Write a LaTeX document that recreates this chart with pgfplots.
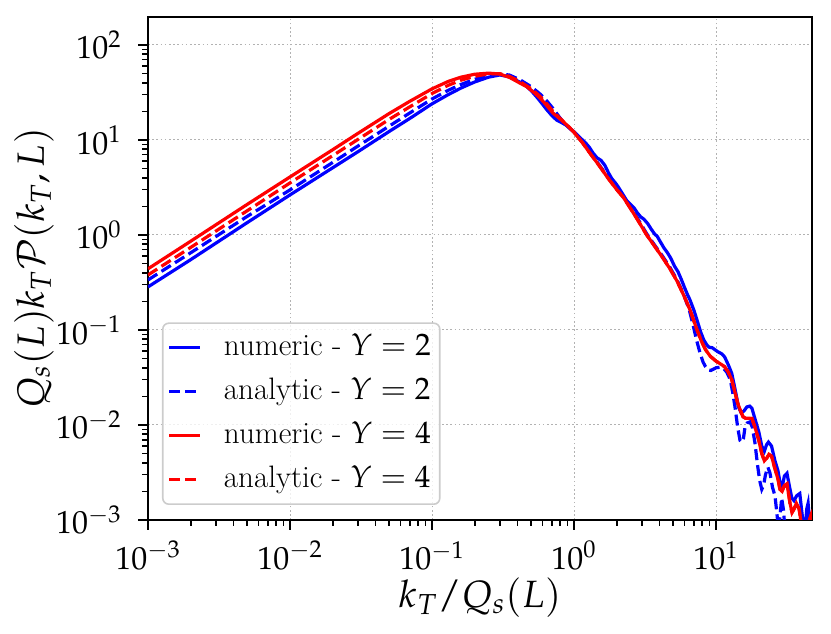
\documentclass[border=0pt]{standalone}
\usepackage{mathpazo}
\usepackage{pgfplots}
\pgfplotsset{compat=1.18}

\pgfplotstableread{
x y
0.001 0.284
0.002 0.55
0.005 1.35
0.01 2.64
0.02 5.1
0.03 7.5
0.05 12.3
0.07 16.9
0.1 24.0
0.13 30.0
0.16 35.2
0.2 40.8
0.25 45.8
0.3 48.3
0.35 46.3
0.417 40.5
0.46 37.0
0.5 33.0
0.55 28.0
0.6 23.8
0.64 21.0
0.7 18.0
0.755 16.2
0.82 15.2
0.888 14.2
0.95 13.0
1.0 12.2
1.1 10.6
1.2 9.4
1.28 8.4
1.36 7.3
1.45 6.5
1.55 6.1
1.65 5.4
1.75 4.5
1.85 3.9
1.95 3.55
2.05 3.2
2.2 2.7
2.35 2.3
2.5 2.1
2.65 1.92
2.8 1.7
2.95 1.55
3.1 1.47
3.3 1.32
3.5 1.15
3.7 1.02
3.85 0.97
4.05 0.85
4.3 0.73
4.55 0.65
4.8 0.57
5.1 0.47
5.4 0.41
5.7 0.34
6.0 0.28
6.3 0.235
6.56 0.207
7.0 0.16
7.35 0.127
7.8 0.095
8.2 0.0785
8.6 0.070
8.9 0.066
9.4 0.065
10.3 0.059
11.0 0.056
11.5 0.052
12.2 0.043
12.9 0.035
13.6 0.024
14.4 0.0155
15.0 0.0135
15.7 0.0140
16.5 0.0155
17.3 0.0158
17.9 0.0150
19.0 0.0110
20.0 0.0085
21.0 0.0060
21.9 0.0053
22.7 0.0062
23.4 0.0066
24.6 0.0060
26.0 0.0042
27.3 0.0033
28.2 0.0025
29.2 0.0022
30.3 0.0029
31.6 0.0031
33.0 0.0022
34.2 0.0017
35.4 0.0016
37.0 0.0018
38.9 0.0019
40.0 0.0013
41.2 0.0009
42.5 0.0008
43.5 0.0013
44.5 0.0015
45.5 0.0010
46.5 0.0008
47.4 0.0007
}\numtwo

\pgfplotstableread{
x y
0.001 0.336
0.002 0.65
0.005 1.57
0.01 2.98
0.02 5.8
0.03 8.6
0.05 14.0
0.07 19.3
0.1 27.0
0.13 33.3
0.16 38.4
0.2 43.5
0.25 47.6
0.3 49.3
0.35 48.3
0.417 43.0
0.5 36.3
0.576 30.5
0.64 26.0
0.711 21.5
0.78 17.8
0.836 15.6
0.9 13.9
1.0 12.1
1.15 9.5
1.3 7.4
1.5 5.5
1.75 4.0
2.0 3.05
2.22 2.55
2.5 1.95
2.8 1.5
3.25 1.03
3.7 0.78
4.2 0.60
4.74 0.455
5.3 0.34
5.9 0.24
6.5 0.16
6.9 0.112
7.3 0.078
7.7 0.058
8.1 0.046
8.44 0.041
8.8 0.038
9.2 0.0375
9.7 0.039
10.0 0.040
10.6 0.0405
11.2 0.040
11.9 0.036
12.6 0.030
13.1 0.022
13.6 0.0155
14.2 0.0095
14.75 0.0069
15.2 0.0066
15.6 0.0072
16.0 0.0095
16.6 0.0105
17.4 0.0108
18.0 0.0095
18.8 0.0065
19.6 0.0038
20.3 0.0026
21.0 0.0021
21.6 0.0023
22.3 0.0030
23.2 0.0036
24.0 0.0031
25.0 0.0022
26.0 0.0018
26.8 0.0012
27.5 0.0008
28.2 0.0011
29.0 0.0017
29.8 0.0013
30.6 0.0008
32.0 0.0005
34.0 0.0004
36.0 0.0006
38.0 0.0005
40.0 0.0004
}\anatwo

\pgfplotstableread{
x y
0.001 0.44
0.002 0.86
0.005 2.1
0.01 4.08
0.02 7.9
0.03 11.7
0.05 19.0
0.07 25.6
0.1 34.5
0.13 41.3
0.16 45.8
0.2 49.2
0.25 50.5
0.3 49.5
0.354 45.3
0.417 39.6
0.464 36.4
0.52 31.8
0.576 27.7
0.64 23.2
0.711 19.2
0.8 16.6
0.888 14.4
1.0 12.0
1.15 9.3
1.3 7.2
1.5 5.4
1.75 3.9
2.0 3.0
2.22 2.5
2.5 1.9
2.8 1.45
3.25 1.0
3.7 0.76
4.2 0.58
4.74 0.44
5.3 0.33
5.9 0.235
6.56 0.163
7.35 0.100
7.9 0.076
8.44 0.062
9.1 0.053
10.0 0.047
11.0 0.043
11.5 0.041
12.2 0.036
12.9 0.030
13.6 0.022
14.2 0.017
14.8 0.0144
15.5 0.0122
16.1 0.0118
17.0 0.0118
17.9 0.0117
18.8 0.0095
20.0 0.0069
21.0 0.0050
21.9 0.0042
22.8 0.0045
23.6 0.0049
24.6 0.0047
25.8 0.0036
27.3 0.0027
28.2 0.0021
29.2 0.0020
30.3 0.0023
31.6 0.0024
33.2 0.0015
34.3 0.0012
35.4 0.0013
36.8 0.0015
38.5 0.0013
39.5 0.0010
41.0 0.0008
42.5 0.0008
44.0 0.00085
45.5 0.0010
46.5 0.0011
47.4 0.0009
}\numfour

\pgfplotstableread{
x y
0.001 0.379
0.002 0.74
0.005 1.8
0.01 3.53
0.02 6.85
0.03 10.1
0.05 16.5
0.07 22.4
0.1 30.8
0.13 37.6
0.16 42.6
0.2 46.8
0.25 49.6
0.3 49.9
0.354 46.5
0.417 41.0
0.5 34.6
0.576 28.8
0.64 24.2
0.711 20.0
0.8 16.8
0.888 14.5
1.0 12.1
1.15 9.3
1.3 7.2
1.5 5.4
1.75 3.9
2.0 3.0
2.22 2.5
2.5 1.9
2.8 1.45
3.25 1.0
3.7 0.76
4.2 0.58
4.74 0.44
5.3 0.33
5.9 0.235
6.56 0.163
7.35 0.100
7.9 0.076
8.44 0.062
9.1 0.053
10.0 0.047
11.0 0.043
11.5 0.041
12.2 0.036
12.9 0.030
13.6 0.022
14.2 0.017
14.8 0.0144
15.5 0.0122
16.1 0.0118
17.0 0.0118
17.9 0.0117
18.8 0.0095
20.0 0.0069
21.0 0.0050
21.9 0.0042
22.8 0.0045
23.6 0.0049
24.6 0.0047
25.8 0.0036
27.3 0.0027
28.2 0.0021
29.2 0.0020
30.3 0.0023
31.6 0.0024
33.2 0.0015
34.3 0.0012
35.4 0.0013
36.8 0.0015
38.5 0.0013
39.5 0.0010
41.0 0.0008
42.5 0.0008
44.0 0.00085
45.5 0.0010
46.5 0.0011
47.4 0.0009
}\anafour

\begin{document}
\begin{tikzpicture}
\begin{loglogaxis}[
  scale only axis,
  width=332pt, height=251.5pt,
  xmin=1e-3, xmax=47.4,
  ymin=1e-3, ymax=197,
  axis line style={line width=0.9pt},
  every tick/.style={black, line width=0.8pt},
  tick align=outside,
  major tick length=5pt,
  minor tick length=2.8pt,
  xtick pos=bottom, ytick pos=left,
  xtick={1e-3,1e-2,1e-1,1,10},
  ytick={1e-3,1e-2,1e-1,1,10,100},
  grid=major,
  major grid style={gray!60, line width=0.5pt, dash pattern=on 0.8pt off 1.3pt},
  ticklabel style={font=\fontsize{16}{19}\selectfont},
  xticklabel style={inner sep=0pt, yshift=-5.5pt},
  yticklabel style={inner sep=0pt, xshift=-8pt},
  xlabel={$k_T/Q_s(L)$},
  ylabel={$Q_s(L)k_T\mathcal{P}(k_T,L)$},
  label style={font=\fontsize{19}{22}\selectfont},
  xlabel style={at={(axis description cs:0.5,0)}, anchor=base, yshift=-44pt},
  ylabel style={at={(axis description cs:0,0.5)}, anchor=base, yshift=52pt},
  legend cell align=left,
  legend style={at={(0,0)}, anchor=south west, xshift=7pt, yshift=7.5pt,
    font=\fontsize{15.5}{18}\selectfont,
    draw=black!20, line width=0.8pt, rounded corners=3pt,
    fill=white, fill opacity=0.8, text opacity=1,
    inner xsep=2.5pt, inner ysep=3pt, row sep=3.5pt,
    nodes={text height=11pt, text depth=3.5pt, inner sep=2pt},
    /tikz/every odd column/.append style={column sep=9pt}},
  legend image code/.code={\draw[#1] (0pt,0pt) -- (15.5pt,0pt);},
  every axis plot/.append style={line width=1.6pt},
]
\addplot[blue, solid] table[x=x,y=y] {\numtwo};
\addlegendentry{numeric - $Y=2$}
\addplot[blue, dash pattern=on 5.5pt off 2.5pt] table[x=x,y=y] {\anatwo};
\addlegendentry{analytic - $Y=2$}
\addplot[red, solid] table[x=x,y=y] {\numfour};
\addlegendentry{numeric - $Y=4$}
\addplot[red, dash pattern=on 5.5pt off 2.5pt] table[x=x,y=y] {\anafour};
\addlegendentry{analytic - $Y=4$}
\end{loglogaxis}
\pgfresetboundingbox
\path (current axis.south west) ++(-74pt,-57pt) coordinate (bl);
\path (current axis.north east) ++(9.5pt,8.5pt) coordinate (tr);
\useasboundingbox (bl) rectangle (tr);
\end{tikzpicture}
\end{document}
